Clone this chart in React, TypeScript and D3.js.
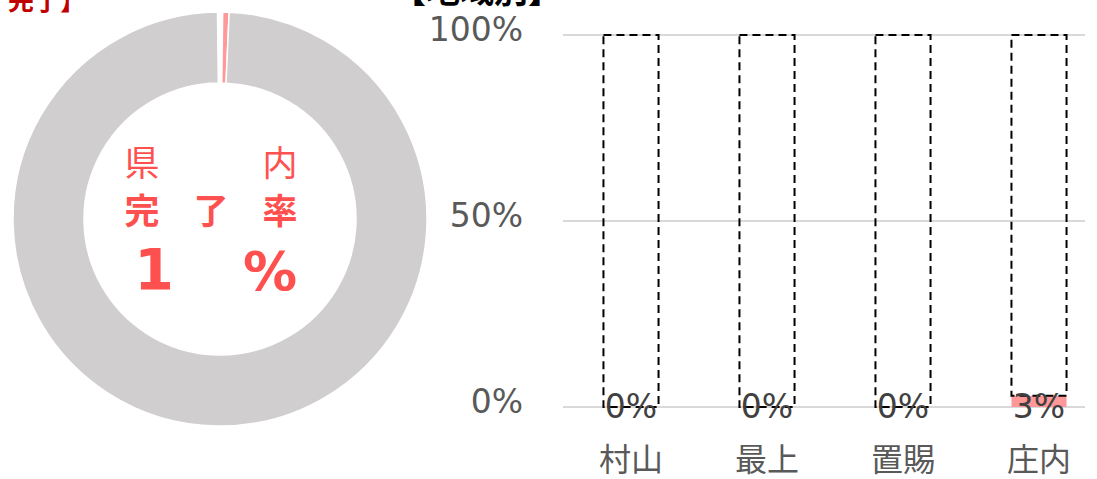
import React from "react";
import * as d3 from "d3";

const regions = ["村山", "最上", "置賜", "庄内"];
const rates = [0, 0, 0, 0.03];
const yTicks = [0, 0.5, 1];
const donutLabels = ["その他", "完了", "未完了"];
const donutValues = [0.4, 0.5, 99.1];
const donutColors = ["#ffffff", "#ff9999", "#d0cecf"];
const centerRate = "1";

const W = 1097;
const H = 479;
const FONT = "'DejaVu Sans', 'Noto Sans CJK JP', sans-serif";
const JP = "'Noto Sans CJK JP', sans-serif";

export default function App() {
  const cx = 220, cy = 219, rOut = 207, rIn = 136;
  const start = (-0.7 * Math.PI) / 180;
  const pie = d3.pie<number>().sort(null).startAngle(start).endAngle(start + 2 * Math.PI);
  const arcs = pie(donutValues);
  const arc = d3.arc<d3.PieArcDatum<number>>().innerRadius(rIn).outerRadius(rOut);

  const x = d3.scaleBand<string>().domain(regions).range([563, 1107]).paddingInner(0.595).paddingOuter(0.2975);
  const y = d3.scaleLinear().domain([0, 1]).range([407, 35]);
  const bw = x.bandwidth();

  const red = "#ff5050";
  return (
    <svg width={W} height={H} style={{ position: "fixed", left: 0, top: 0, background: "#fff" }}>
      <rect width={W} height={H} fill="#fff" />
      {/* titles cut off at top */}
      <text x={86} y={10} textAnchor="end" fontFamily={JP} fontWeight={700} fontSize={26} fill="#c00000">完了】</text>
      <text x={562} y={3} textAnchor="end" fontFamily={JP} fontWeight={700} fontSize={34} fill="#000">【地域別】</text>

      {/* donut */}
      <g transform={`translate(${cx},${cy})`}>
        {arcs.map((a, i) => (
          <path key={donutLabels[i]} d={arc(a) || ""} fill={donutColors[i]} stroke="#fff" strokeWidth={1.5} />
        ))}
      </g>
      <g fontFamily={JP} fill={red} textAnchor="middle">
        <text x={142} y={176} fontSize={35}>県</text>
        <text x={280} y={176} fontSize={35}>内</text>
        <text x={142} y={224} fontSize={35} fontWeight={700}>完</text>
        <text x={211} y={224} fontSize={35} fontWeight={700}>了</text>
        <text x={280} y={224} fontSize={35} fontWeight={700}>率</text>
      </g>
      <g fontFamily={FONT} fill={red} textAnchor="middle" fontWeight={700}>
        <text x={154} y={290} fontSize={57}>{centerRate}</text>
        <text x={270} y={290} fontSize={54}>%</text>
      </g>

      {/* gridlines */}
      {yTicks.map((t) => (
        <g key={t}>
          <line x1={563} x2={1085} y1={y(t)} y2={y(t)} stroke="#d9d9d9" strokeWidth={2} />
          <text x={523} y={y(t) + 6} textAnchor="end" fontFamily={FONT} fontSize={33} fill="#595959">
            {d3.format(".0%")(t)}
          </text>
        </g>
      ))}

      {/* bars */}
      {regions.map((r, i) => {
        const x0 = x(r)!;
        const v = rates[i];
        return (
          <g key={r}>
            {v > 0 && <rect x={x0} y={y(v)} width={bw} height={y(0) - y(v)} fill="#ff9999" />}
            <rect x={x0} y={y(1)} width={bw} height={y(v) - y(1)} fill="none" stroke="#000" strokeWidth={2} strokeDasharray="8,5" />
            <text x={x0 + bw / 2} y={y(0) + 11} textAnchor="middle" fontFamily={FONT} fontSize={33} fill="#404040">
              {d3.format(".0%")(v)}
            </text>
            <text x={x0 + bw / 2} y={471} textAnchor="middle" fontFamily={JP} fontSize={32} fill="#595959">
              {r}
            </text>
          </g>
        );
      })}
    </svg>
  );
}
